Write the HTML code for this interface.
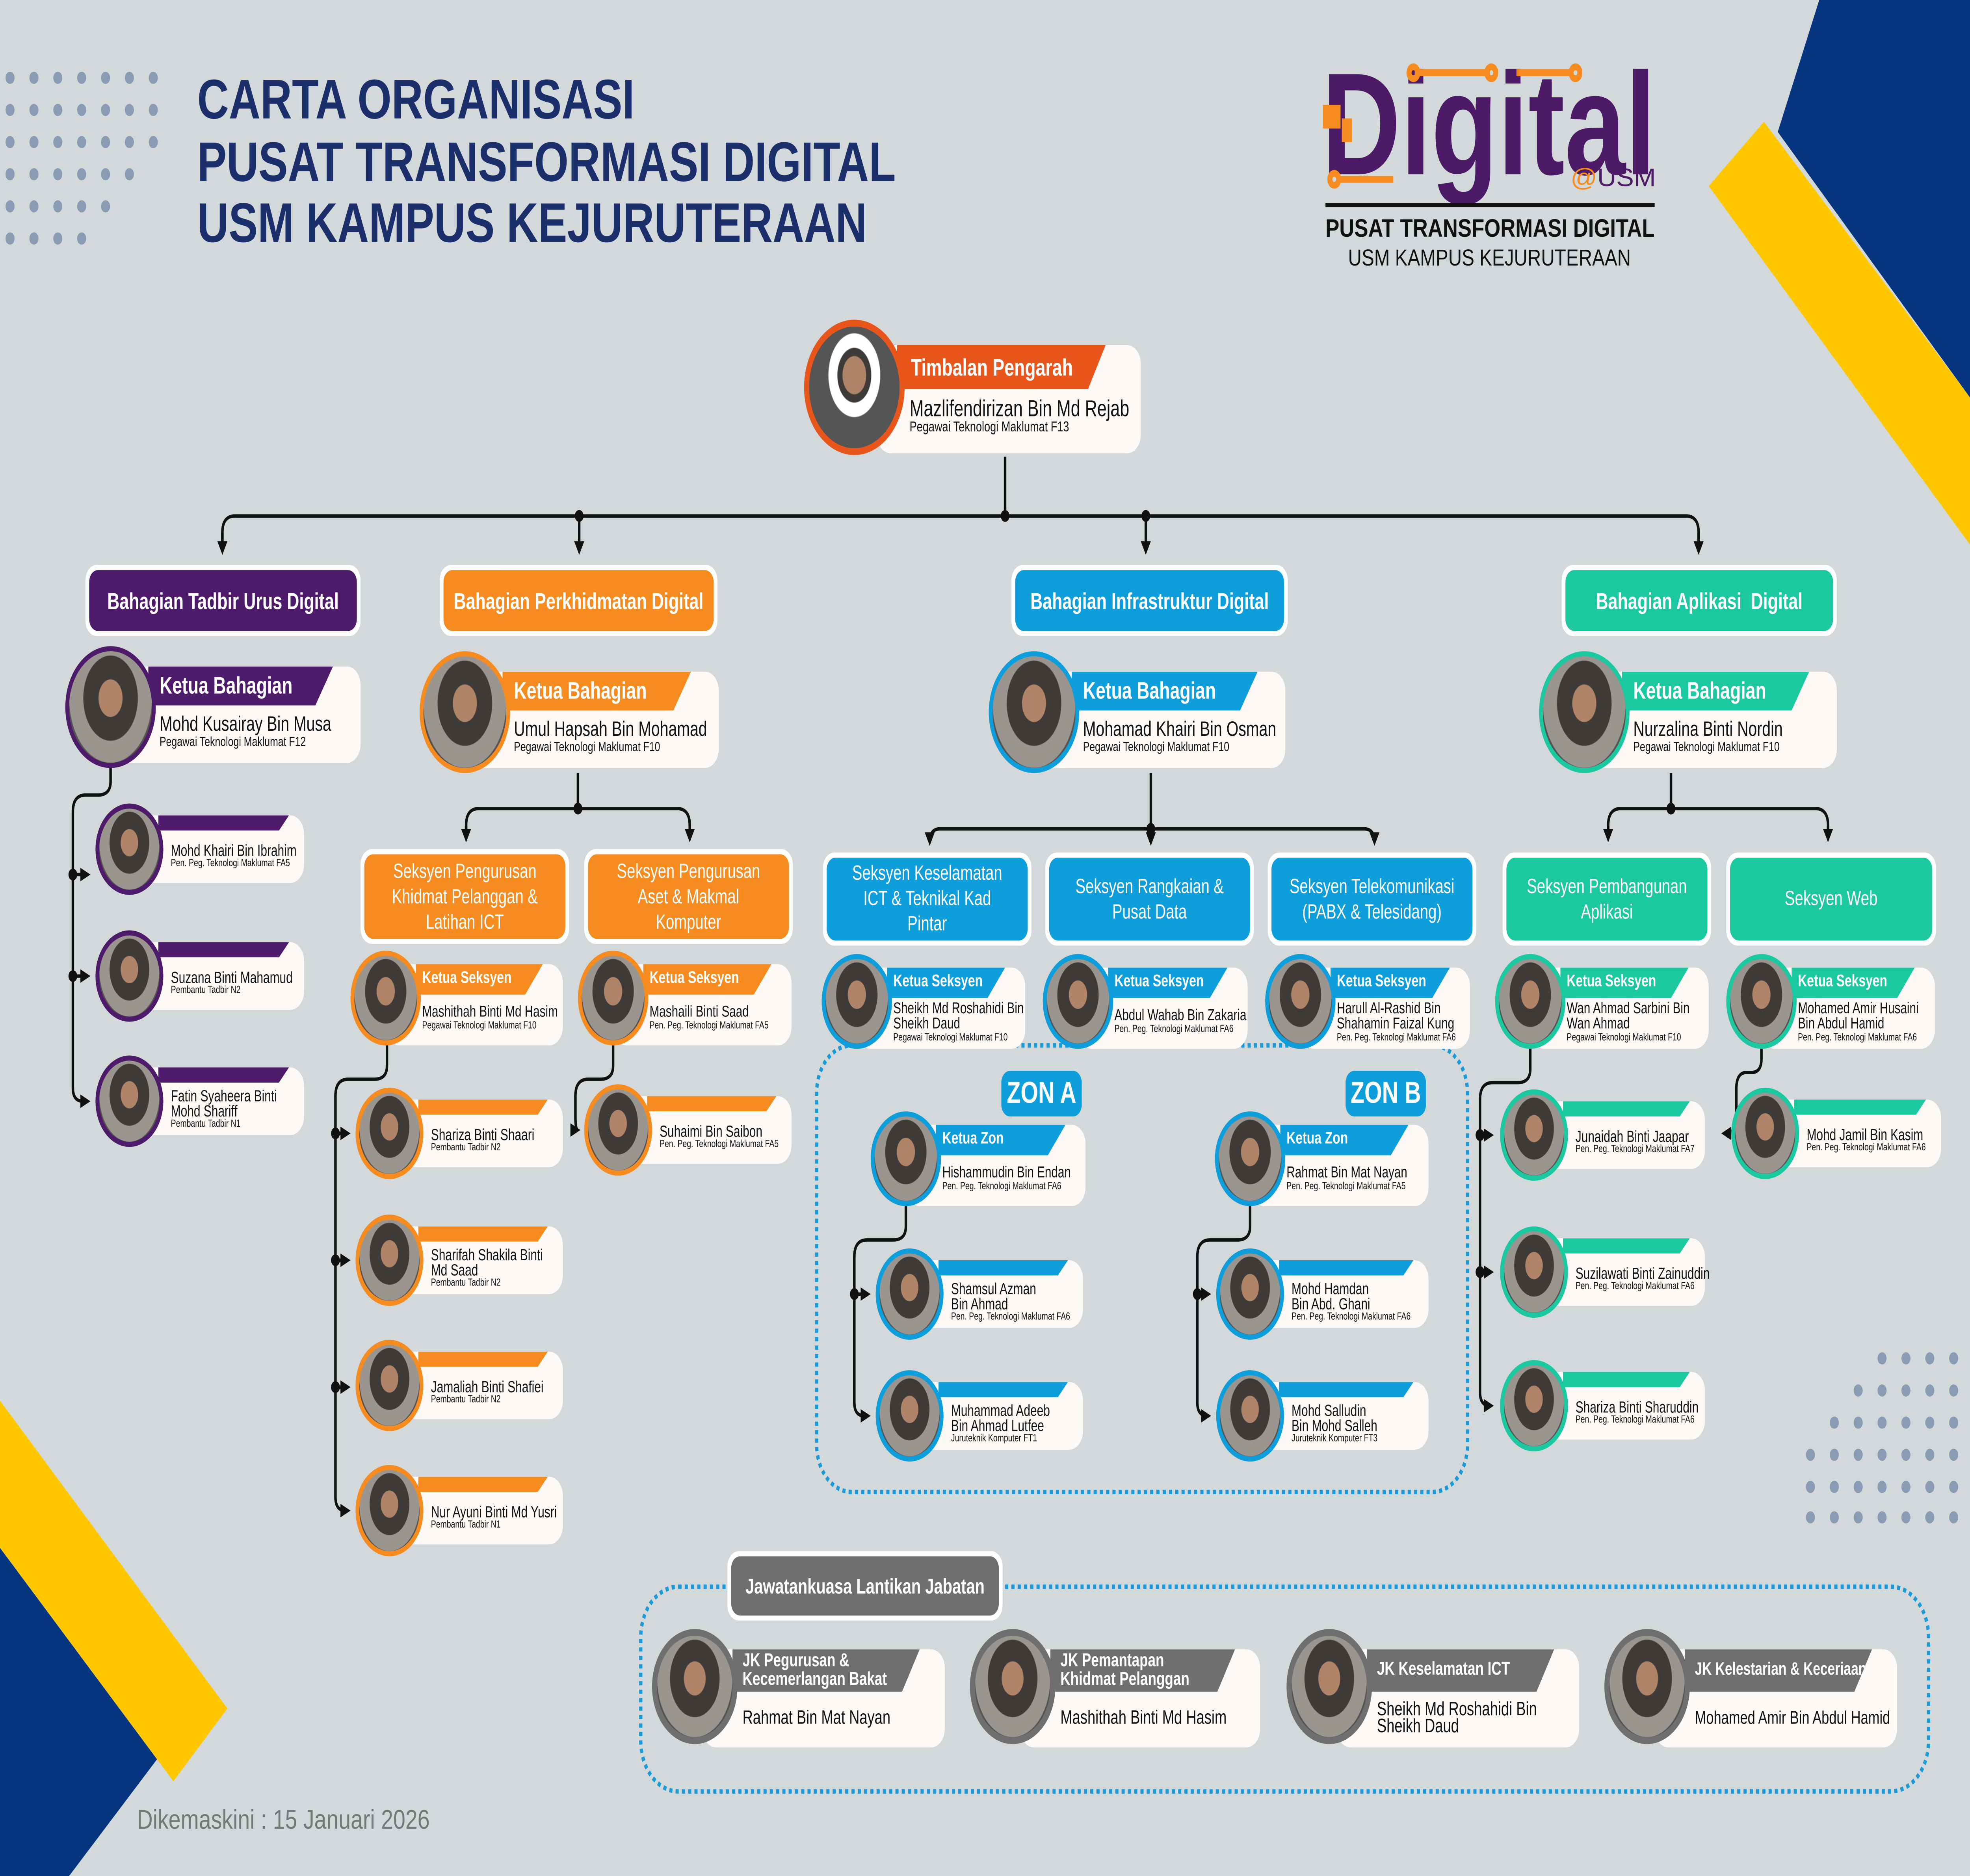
<!DOCTYPE html>
<html><head><meta charset="utf-8">
<style>
html,body{margin:0;padding:0;background:#d3d9da;width:100%;height:100%;overflow:hidden;}
svg.root{position:fixed;left:0;top:0;width:100vw;height:100vh;display:block;}
#w{position:relative;width:1568px;height:1109px;background:#d3d9da;font-family:"Liberation Sans Narrow","Liberation Sans",sans-serif;overflow:hidden;}
svg.bg{position:absolute;left:0;top:0;}
.c{position:absolute;}
.c .bx{position:absolute;background:#fdf9f7;border-radius:11px;right:0;}
.c .ph{position:absolute;left:0;top:0;border-radius:50%;box-sizing:border-box;border:3px solid var(--c);background:radial-gradient(ellipse at 50% 42%,#b08468 0 20%,#3e3a38 21% 46%,#9a958e 47% 70%,#55524f 71%);}
.c .bn{position:absolute;background:var(--c);color:#fff;font-weight:bold;white-space:nowrap;clip-path:polygon(0 0,100% 0,calc(100% - 14px) 100%,0 100%);box-sizing:border-box;}
.c .t{position:absolute;display:flex;flex-direction:column;justify-content:center;color:#111;white-space:nowrap;}
.c .t b{font-weight:normal;display:block;}
.c .t i{font-style:normal;display:block;}
.p{--c:#4e1b6b}.o{--c:#f68b1f}.b{--c:#0d9edb}.g{--c:#1cc8a0}.k{--c:#6f6f6f}.r{--c:#e8561c}
.big{height:72px}.big .ph{width:72px;height:72px}
.big .bx{left:36px;top:12px;height:57px}
.big .bn{left:66px;top:12px;right:22px;height:23px;font-size:14px;line-height:23px;padding-left:9px}
.big .t{left:75px;top:35px;height:30px}
.big .t b{font-size:12.3px;line-height:12px}.big .t i{font-size:7.8px;line-height:9px}
.ks{height:56px}.ks .ph{width:56px;height:56px}
.ks .bx{left:28px;top:8px;height:48px}
.ks .bn{left:52px;top:8px;right:16px;height:18px;font-size:10px;line-height:18px;padding-left:5px}
.ks .t{left:57px;top:26px;height:28px}
.ks .t b{font-size:9.3px;line-height:9px}.ks .t i{font-size:6.1px;line-height:7px}
.st{height:54px}.st .ph{width:54px;height:54px}
.st .bx{left:30px;top:7px;height:40px}
.st .bn{left:50px;top:7px;right:12px;height:9px;clip-path:polygon(0 0,100% 0,calc(100% - 8px) 100%,0 100%)}
.st .t{left:60px;top:16px;height:30px}
.st .t b{font-size:9.4px;line-height:9px}.st .t i{font-size:6.1px;line-height:7px}
.cm{height:68px}.cm .ph{width:68px;height:68px;border-width:4px}
.cm .bx{left:40px;top:12px;height:58px}
.cm .bn{left:64px;top:12px;right:20px;height:25px;font-size:11px;line-height:10.5px;padding-left:8px;display:flex;flex-direction:column;justify-content:center}
.cm .t{left:72px;top:38px;height:30px}
.cm .t b{font-size:11.4px;line-height:10.5px}
.tb{height:80px}.tb .ph{width:80px;height:80px;border-width:4px;background:radial-gradient(ellipse at 50% 40%,#b08468 0 18%,#3e3a38 19% 26%,#fff 27% 40%,#555 41%);}
.tb .bx{left:58px;top:15px;height:64px}
.tb .bn{left:74px;top:15px;right:28px;height:26px;font-size:14px;line-height:26px;padding-left:11px}
.tb .t{left:84px;top:41px;height:32px}
.tb .t b{font-size:13.5px;line-height:13px}.tb .t i{font-size:8.5px;line-height:9px}
.hd{position:absolute;background:#fff;border-radius:9px;padding:3px;box-sizing:border-box;}
.hd div{width:100%;height:100%;border-radius:7px;background:var(--c);color:#fff;font-weight:bold;display:flex;align-items:center;justify-content:center;text-align:center;box-sizing:border-box;white-space:nowrap;}
.hb div{font-size:13.5px}
.hs div{font-size:12px;line-height:15px;font-weight:normal;}
.zon{position:absolute;background:#0d9edb;color:#fff;font-weight:bold;font-size:18px;border-radius:7px;display:flex;align-items:center;justify-content:center;}
</style></head><body>
<svg class="root" viewBox="0 0 1568 1109" preserveAspectRatio="none" xmlns="http://www.w3.org/2000/svg">
<foreignObject x="0" y="0" width="1568" height="1109">
<div xmlns="http://www.w3.org/1999/xhtml" id="w">
<svg class="bg" width="1568" height="1109" viewBox="0 0 1568 1109" xmlns="http://www.w3.org/2000/svg">
<defs><marker id="a" markerWidth="8" markerHeight="8" refX="6" refY="4" orient="auto" markerUnits="userSpaceOnUse"><path d="M0,0 L8,4 L0,8 z" fill="#111"/></marker></defs>
<polygon points="1448,0 1568,0 1568,235 1415,78" fill="#06357f"/>
<polygon points="1360,110 1404,72 1568,235 1568,322" fill="#ffc700"/>
<polygon points="0,915 125,1040 55,1109 0,1109" fill="#06357f"/>
<polygon points="0,828 181,1010 138,1053 0,915" fill="#ffc700"/>
<g fill="#8a9cb4">
<circle cx="8" cy="46" r="3.6"/><circle cx="27" cy="46" r="3.6"/><circle cx="46" cy="46" r="3.6"/><circle cx="65" cy="46" r="3.6"/><circle cx="84" cy="46" r="3.6"/><circle cx="103" cy="46" r="3.6"/><circle cx="122" cy="46" r="3.6"/>
<circle cx="8" cy="65" r="3.6"/><circle cx="27" cy="65" r="3.6"/><circle cx="46" cy="65" r="3.6"/><circle cx="65" cy="65" r="3.6"/><circle cx="84" cy="65" r="3.6"/><circle cx="103" cy="65" r="3.6"/><circle cx="122" cy="65" r="3.6"/>
<circle cx="8" cy="84" r="3.6"/><circle cx="27" cy="84" r="3.6"/><circle cx="46" cy="84" r="3.6"/><circle cx="65" cy="84" r="3.6"/><circle cx="84" cy="84" r="3.6"/><circle cx="103" cy="84" r="3.6"/><circle cx="122" cy="84" r="3.6"/>
<circle cx="8" cy="103" r="3.6"/><circle cx="27" cy="103" r="3.6"/><circle cx="46" cy="103" r="3.6"/><circle cx="65" cy="103" r="3.6"/><circle cx="84" cy="103" r="3.6"/><circle cx="103" cy="103" r="3.6"/>
<circle cx="8" cy="122" r="3.6"/><circle cx="27" cy="122" r="3.6"/><circle cx="46" cy="122" r="3.6"/><circle cx="65" cy="122" r="3.6"/><circle cx="84" cy="122" r="3.6"/>
<circle cx="8" cy="141" r="3.6"/><circle cx="27" cy="141" r="3.6"/><circle cx="46" cy="141" r="3.6"/><circle cx="65" cy="141" r="3.6"/>
<circle cx="1498" cy="803" r="3.6"/><circle cx="1517" cy="803" r="3.6"/><circle cx="1536" cy="803" r="3.6"/><circle cx="1555" cy="803" r="3.6"/>
<circle cx="1479" cy="822" r="3.6"/><circle cx="1498" cy="822" r="3.6"/><circle cx="1517" cy="822" r="3.6"/><circle cx="1536" cy="822" r="3.6"/><circle cx="1555" cy="822" r="3.6"/>
<circle cx="1460" cy="841" r="3.6"/><circle cx="1479" cy="841" r="3.6"/><circle cx="1498" cy="841" r="3.6"/><circle cx="1517" cy="841" r="3.6"/><circle cx="1536" cy="841" r="3.6"/><circle cx="1555" cy="841" r="3.6"/>
<circle cx="1441" cy="860" r="3.6"/><circle cx="1460" cy="860" r="3.6"/><circle cx="1479" cy="860" r="3.6"/><circle cx="1498" cy="860" r="3.6"/><circle cx="1517" cy="860" r="3.6"/><circle cx="1536" cy="860" r="3.6"/><circle cx="1555" cy="860" r="3.6"/>
<circle cx="1441" cy="879" r="3.6"/><circle cx="1460" cy="879" r="3.6"/><circle cx="1479" cy="879" r="3.6"/><circle cx="1498" cy="879" r="3.6"/><circle cx="1517" cy="879" r="3.6"/><circle cx="1536" cy="879" r="3.6"/><circle cx="1555" cy="879" r="3.6"/>
<circle cx="1441" cy="897" r="3.6"/><circle cx="1460" cy="897" r="3.6"/><circle cx="1479" cy="897" r="3.6"/><circle cx="1498" cy="897" r="3.6"/><circle cx="1517" cy="897" r="3.6"/><circle cx="1536" cy="897" r="3.6"/><circle cx="1555" cy="897" r="3.6"/>
</g>
<g font-family="Liberation Sans, sans-serif" font-weight="bold" fill="#1b2f6b" font-size="33">
<text x="157" y="70" textLength="348" lengthAdjust="spacingAndGlyphs">CARTA ORGANISASI</text>
<text x="157" y="107" textLength="556" lengthAdjust="spacingAndGlyphs">PUSAT TRANSFORMASI DIGITAL</text>
<text x="157" y="143" textLength="533" lengthAdjust="spacingAndGlyphs">USM KAMPUS KEJURUTERAAN</text>
</g>
<g>
<text x="1052" y="103" font-family="Liberation Sans, sans-serif" font-weight="bold" font-size="86" fill="#4c1a66" textLength="266" lengthAdjust="spacingAndGlyphs">Digital</text>
<g stroke="#f68b1f" stroke-width="4" fill="none"><line x1="1126" y1="43" x2="1186" y2="43"/><circle cx="1125" cy="43" r="3.5"/><circle cx="1187" cy="43" r="3.5"/><line x1="1207" y1="43" x2="1252" y2="43"/><circle cx="1254" cy="43" r="3.5"/><line x1="1064" y1="106" x2="1109" y2="106"/><circle cx="1062" cy="106" r="3.5"/></g>
<rect x="1053" y="62" width="14" height="14" fill="#f68b1f"/><rect x="1068" y="70" width="8" height="14" fill="#f68b1f"/>
<text x="1250" y="110" font-family="Liberation Sans, sans-serif" font-size="15" fill="#4c1a66" textLength="68" lengthAdjust="spacingAndGlyphs"><tspan fill="#f68b1f">@</tspan>USM</text>
<rect x="1055" y="120" width="262" height="2.5" fill="#111"/>
<text x="1055" y="140" font-family="Liberation Sans, sans-serif" font-weight="bold" font-size="15" fill="#111" textLength="262" lengthAdjust="spacingAndGlyphs">PUSAT TRANSFORMASI DIGITAL</text>
<text x="1073" y="157" font-family="Liberation Sans, sans-serif" font-size="13.5" fill="#111" textLength="225" lengthAdjust="spacingAndGlyphs">USM KAMPUS KEJURUTERAAN</text>
</g>
<text x="109" y="1081" font-family="Liberation Sans, sans-serif" font-size="16" fill="#777" textLength="233" lengthAdjust="spacingAndGlyphs">Dikemaskini : 15 Januari 2026</text>
<rect x="650" y="618" width="518" height="264" rx="28" fill="none" stroke="#1a9bd8" stroke-width="2.6" stroke-dasharray="2.5 2.5"/>
<rect x="510" y="938" width="1025" height="121" rx="30" fill="none" stroke="#1a9bd8" stroke-width="2.6" stroke-dasharray="2.5 2.5"/>
<g stroke="#111" stroke-width="2" fill="none">
<path d="M800 270 V305"/>
<path d="M177 326 V315 Q177 305 187 305 H1342 Q1352 305 1352 315 V326" marker-end="url(#a)"/>
<path d="M177 315 V326" marker-end="url(#a)"/>
<path d="M461 305 V326" marker-end="url(#a)"/>
<path d="M912 305 V326" marker-end="url(#a)"/>
<path d="M88 454 V462 Q88 470 78 470 H68 Q58 470 58 480 V643 Q58 651 66 651 H70" marker-end="url(#a)"/>
<path d="M58 517 H70" marker-end="url(#a)"/><path d="M58 577 H70" marker-end="url(#a)"/>
<path d="M460 457 V478"/>
<path d="M371 496 V488 Q371 478 381 478 H539 Q549 478 549 488 V496" marker-end="url(#a)"/>
<path d="M371 488 V496" marker-end="url(#a)"/>
<path d="M308 618 V630 Q308 638 298 638 H277 Q267 638 267 648 V885 Q267 893 275 893 H277" marker-end="url(#a)"/>
<path d="M267 670 H277" marker-end="url(#a)"/><path d="M267 745 H277" marker-end="url(#a)"/><path d="M267 820 H277" marker-end="url(#a)"/>
<path d="M488 618 V630 Q488 638 478 638 H468 Q458 638 458 648 V660 Q458 668 460 668" marker-end="url(#a)"/>
<path d="M916 457 V498" marker-end="url(#a)"/>
<path d="M740 498 V498 Q740 490 748 490 H1086 Q1094 490 1094 498" />
<path d="M740 493 V498" marker-end="url(#a)"/><path d="M1094 493 V498" marker-end="url(#a)"/>
<path d="M721 713 V725 Q721 733 711 733 H690 Q680 733 680 743 V829 Q680 837 688 837 H691" marker-end="url(#a)"/>
<path d="M680 765 H691" marker-end="url(#a)"/>
<path d="M995 713 V725 Q995 733 985 733 H963 Q953 733 953 743 V829 Q953 837 961 837 H962" marker-end="url(#a)"/>
<path d="M953 765 H962" marker-end="url(#a)"/>
<path d="M1330 457 V478"/>
<path d="M1280 496 V488 Q1280 478 1290 478 H1445 Q1455 478 1455 488 V496" marker-end="url(#a)"/>
<path d="M1280 488 V496" marker-end="url(#a)"/>
<path d="M1218 620 V632 Q1218 640 1208 640 H1188 Q1178 640 1178 650 V823 Q1178 831 1186 831 H1187" marker-end="url(#a)"/>
<path d="M1178 671 H1187" marker-end="url(#a)"/><path d="M1178 752 H1187" marker-end="url(#a)"/>
<path d="M1402 620 V626 Q1402 634 1394 634 H1390 Q1382 634 1382 644 V662 Q1382 670 1372 670" marker-end="url(#a)"/>
</g>
<g fill="#111">
<circle cx="461" cy="305" r="3.5"/><circle cx="800" cy="305" r="3.5"/><circle cx="912" cy="305" r="3.5"/>
<circle cx="58" cy="517" r="3.5"/><circle cx="58" cy="577" r="3.5"/>
<circle cx="460" cy="478" r="3.5"/><circle cx="916" cy="490" r="3.5"/><circle cx="1330" cy="478" r="3.5"/>
<circle cx="267" cy="670" r="3.5"/><circle cx="267" cy="745" r="3.5"/><circle cx="267" cy="820" r="3.5"/>
<circle cx="680" cy="765" r="3.5"/><circle cx="953" cy="765" r="3.5"/>
<circle cx="1178" cy="671" r="3.5"/><circle cx="1178" cy="752" r="3.5"/>
</g>
</svg>

<div class="c tb r" style="left:640px;top:189px;width:268px"><div class="bx"></div><div class="bn">Timbalan Pengarah</div><div class="ph"></div><div class="t"><b>Mazlifendirizan Bin Md Rejab</b><i>Pegawai Teknologi Maklumat F13</i></div></div>

<div class="hd hb p" style="left:68px;top:334px;width:219px;height:42px"><div>Bahagian Tadbir Urus Digital</div></div>
<div class="hd hb o" style="left:350px;top:334px;width:221px;height:42px"><div>Bahagian Perkhidmatan Digital</div></div>
<div class="hd hb b" style="left:805px;top:334px;width:220px;height:42px"><div>Bahagian Infrastruktur Digital</div></div>
<div class="hd hb g" style="left:1243px;top:334px;width:219px;height:42px"><div>Bahagian Aplikasi&#160; Digital</div></div>

<div class="c big p" style="left:52px;top:382px;width:235px"><div class="bx"></div><div class="bn">Ketua Bahagian</div><div class="ph"></div><div class="t"><b>Mohd Kusairay Bin Musa</b><i>Pegawai Teknologi Maklumat F12</i></div></div>
<div class="c big o" style="left:334px;top:385px;width:238px"><div class="bx"></div><div class="bn">Ketua Bahagian</div><div class="ph"></div><div class="t"><b>Umul Hapsah Bin Mohamad</b><i>Pegawai Teknologi Maklumat F10</i></div></div>
<div class="c big b" style="left:787px;top:385px;width:236px"><div class="bx"></div><div class="bn">Ketua Bahagian</div><div class="ph"></div><div class="t"><b>Mohamad Khairi Bin Osman</b><i>Pegawai Teknologi Maklumat F10</i></div></div>
<div class="c big g" style="left:1225px;top:385px;width:237px"><div class="bx"></div><div class="bn">Ketua Bahagian</div><div class="ph"></div><div class="t"><b>Nurzalina Binti Nordin</b><i>Pegawai Teknologi Maklumat F10</i></div></div>

<div class="c st p" style="left:76px;top:475px;width:166px"><div class="bx"></div><div class="bn"></div><div class="ph"></div><div class="t"><b>Mohd Khairi Bin Ibrahim</b><i>Pen. Peg. Teknologi Maklumat FA5</i></div></div>
<div class="c st p" style="left:76px;top:550px;width:166px"><div class="bx"></div><div class="bn"></div><div class="ph"></div><div class="t"><b>Suzana Binti Mahamud</b><i>Pembantu Tadbir N2</i></div></div>
<div class="c st p" style="left:76px;top:624px;width:166px"><div class="bx"></div><div class="bn"></div><div class="ph"></div><div class="t"><b>Fatin Syaheera Binti<br/>Mohd Shariff</b><i>Pembantu Tadbir N1</i></div></div>

<div class="hd hs o" style="left:287px;top:502px;width:166px;height:56px"><div>Seksyen Pengurusan<br/>Khidmat Pelanggan &amp;<br/>Latihan ICT</div></div>
<div class="hd hs o" style="left:465px;top:502px;width:166px;height:56px"><div>Seksyen Pengurusan<br/>Aset &amp; Makmal<br/>Komputer</div></div>
<div class="hd hs b" style="left:655px;top:504px;width:166px;height:55px"><div>Seksyen Keselamatan<br/>ICT &amp; Teknikal Kad<br/>Pintar</div></div>
<div class="hd hs b" style="left:832px;top:504px;width:166px;height:55px"><div>Seksyen Rangkaian &amp;<br/>Pusat Data</div></div>
<div class="hd hs b" style="left:1009px;top:504px;width:166px;height:55px"><div>Seksyen Telekomunikasi<br/>(PABX &amp; Telesidang)</div></div>
<div class="hd hs g" style="left:1196px;top:504px;width:166px;height:55px"><div>Seksyen Pembangunan<br/>Aplikasi</div></div>
<div class="hd hs g" style="left:1374px;top:504px;width:167px;height:55px"><div>Seksyen Web</div></div>

<div class="c ks o" style="left:279px;top:562px;width:169px"><div class="bx"></div><div class="bn">Ketua Seksyen</div><div class="ph"></div><div class="t"><b>Mashithah Binti Md Hasim</b><i>Pegawai Teknologi Maklumat F10</i></div></div>
<div class="c ks o" style="left:460px;top:562px;width:170px"><div class="bx"></div><div class="bn">Ketua Seksyen</div><div class="ph"></div><div class="t"><b>Mashaili Binti Saad</b><i>Pen. Peg. Teknologi Maklumat FA5</i></div></div>
<div class="c ks b" style="left:654px;top:564px;width:162px"><div class="bx"></div><div class="bn">Ketua Seksyen</div><div class="ph"></div><div class="t"><b>Sheikh Md Roshahidi Bin<br/>Sheikh Daud</b><i>Pegawai Teknologi Maklumat F10</i></div></div>
<div class="c ks b" style="left:830px;top:564px;width:163px"><div class="bx"></div><div class="bn">Ketua Seksyen</div><div class="ph"></div><div class="t"><b>Abdul Wahab Bin Zakaria</b><i>Pen. Peg. Teknologi Maklumat FA6</i></div></div>
<div class="c ks b" style="left:1007px;top:564px;width:163px"><div class="bx"></div><div class="bn">Ketua Seksyen</div><div class="ph"></div><div class="t"><b>Harull Al-Rashid Bin<br/>Shahamin Faizal Kung</b><i>Pen. Peg. Teknologi Maklumat FA6</i></div></div>
<div class="c ks g" style="left:1190px;top:564px;width:170px"><div class="bx"></div><div class="bn">Ketua Seksyen</div><div class="ph"></div><div class="t"><b>Wan Ahmad Sarbini Bin<br/>Wan Ahmad</b><i>Pegawai Teknologi Maklumat F10</i></div></div>
<div class="c ks g" style="left:1374px;top:564px;width:166px"><div class="bx"></div><div class="bn">Ketua Seksyen</div><div class="ph"></div><div class="t"><b>Mohamed Amir Husaini<br/>Bin Abdul Hamid</b><i>Pen. Peg. Teknologi Maklumat FA6</i></div></div>

<div class="c st o" style="left:283px;top:643px;width:165px"><div class="bx"></div><div class="bn"></div><div class="ph"></div><div class="t"><b>Shariza Binti Shaari</b><i>Pembantu Tadbir N2</i></div></div>
<div class="c st o" style="left:283px;top:718px;width:165px"><div class="bx"></div><div class="bn"></div><div class="ph"></div><div class="t"><b>Sharifah Shakila Binti<br/>Md Saad</b><i>Pembantu Tadbir N2</i></div></div>
<div class="c st o" style="left:283px;top:792px;width:165px"><div class="bx"></div><div class="bn"></div><div class="ph"></div><div class="t"><b>Jamaliah Binti Shafiei</b><i>Pembantu Tadbir N2</i></div></div>
<div class="c st o" style="left:283px;top:866px;width:165px"><div class="bx"></div><div class="bn"></div><div class="ph"></div><div class="t"><b>Nur Ayuni Binti Md Yusri</b><i>Pembantu Tadbir N1</i></div></div>
<div class="c st o" style="left:465px;top:641px;width:165px"><div class="bx"></div><div class="bn"></div><div class="ph"></div><div class="t"><b>Suhaimi Bin Saibon</b><i>Pen. Peg. Teknologi Maklumat FA5</i></div></div>

<div class="zon" style="left:797px;top:633px;width:64px;height:27px">ZON A</div>
<div class="zon" style="left:1071px;top:633px;width:64px;height:27px">ZON B</div>
<div class="c ks b" style="left:693px;top:657px;width:171px"><div class="bx"></div><div class="bn">Ketua Zon</div><div class="ph"></div><div class="t"><b>Hishammudin Bin Endan</b><i>Pen. Peg. Teknologi Maklumat FA6</i></div></div>
<div class="c ks b" style="left:967px;top:657px;width:170px"><div class="bx"></div><div class="bn">Ketua Zon</div><div class="ph"></div><div class="t"><b>Rahmat Bin Mat Nayan</b><i>Pen. Peg. Teknologi Maklumat FA5</i></div></div>
<div class="c st b" style="left:697px;top:738px;width:165px"><div class="bx"></div><div class="bn"></div><div class="ph"></div><div class="t"><b>Shamsul Azman<br/>Bin Ahmad</b><i>Pen. Peg. Teknologi Maklumat FA6</i></div></div>
<div class="c st b" style="left:697px;top:810px;width:165px"><div class="bx"></div><div class="bn"></div><div class="ph"></div><div class="t"><b>Muhammad Adeeb<br/>Bin Ahmad Lutfee</b><i>Juruteknik Komputer FT1</i></div></div>
<div class="c st b" style="left:968px;top:738px;width:169px"><div class="bx"></div><div class="bn"></div><div class="ph"></div><div class="t"><b>Mohd Hamdan<br/>Bin Abd. Ghani</b><i>Pen. Peg. Teknologi Maklumat FA6</i></div></div>
<div class="c st b" style="left:968px;top:810px;width:169px"><div class="bx"></div><div class="bn"></div><div class="ph"></div><div class="t"><b>Mohd Salludin<br/>Bin Mohd Salleh</b><i>Juruteknik Komputer FT3</i></div></div>

<div class="c st g" style="left:1194px;top:644px;width:163px"><div class="bx"></div><div class="bn"></div><div class="ph"></div><div class="t"><b>Junaidah Binti Jaapar</b><i>Pen. Peg. Teknologi Maklumat FA7</i></div></div>
<div class="c st g" style="left:1194px;top:725px;width:163px"><div class="bx"></div><div class="bn"></div><div class="ph"></div><div class="t"><b>Suzilawati Binti Zainuddin</b><i>Pen. Peg. Teknologi Maklumat FA6</i></div></div>
<div class="c st g" style="left:1194px;top:804px;width:163px"><div class="bx"></div><div class="bn"></div><div class="ph"></div><div class="t"><b>Shariza Binti Sharuddin</b><i>Pen. Peg. Teknologi Maklumat FA6</i></div></div>
<div class="c st g" style="left:1378px;top:643px;width:167px"><div class="bx"></div><div class="bn"></div><div class="ph"></div><div class="t"><b>Mohd Jamil Bin Kasim</b><i>Pen. Peg. Teknologi Maklumat FA6</i></div></div>

<div class="hd k" style="left:579px;top:917px;width:219px;height:41px"><div style="font-size:12.5px">Jawatankuasa Lantikan Jabatan</div></div>
<div class="c cm k" style="left:519px;top:963px;width:233px"><div class="bx"></div><div class="bn">JK Pegurusan &amp;<br/>Kecemerlangan Bakat</div><div class="ph"></div><div class="t"><b>Rahmat Bin Mat Nayan</b></div></div>
<div class="c cm k" style="left:772px;top:963px;width:231px"><div class="bx"></div><div class="bn">JK Pemantapan<br/>Khidmat Pelanggan</div><div class="ph"></div><div class="t"><b>Mashithah Binti Md Hasim</b></div></div>
<div class="c cm k" style="left:1024px;top:963px;width:233px"><div class="bx"></div><div class="bn">JK Keselamatan ICT</div><div class="ph"></div><div class="t"><b>Sheikh Md Roshahidi Bin<br/>Sheikh Daud</b></div></div>
<div class="c cm k" style="left:1277px;top:963px;width:233px"><div class="bx"></div><div class="bn" style="font-size:10.5px">JK Kelestarian &amp; Keceriaan</div><div class="ph"></div><div class="t"><b style="font-size:10.8px">Mohamed Amir Bin Abdul Hamid</b></div></div>
</div>
</foreignObject>
</svg>
</body></html>
